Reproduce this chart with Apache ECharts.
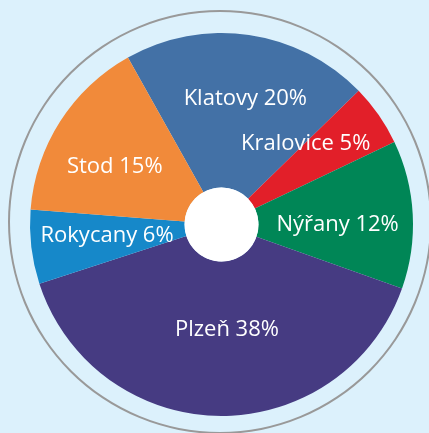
<!DOCTYPE html>
<html>
<head>
<meta charset="utf-8">
<script src="https://cdn.jsdelivr.net/npm/echarts@6/dist/echarts.min.js"></script>
<style>
html,body{margin:0;padding:0;background:#dcf1fc;}
#chart{width:429px;height:433px;}
</style>
</head>
<body>
<div id="chart"></div>
<script>
const categories = ['Klatovy', 'Kralovice', 'Nýřany', 'Plzeň', 'Rokycany', 'Stod'];
const values = [20, 5, 12, 38, 6, 15];
const colors = ['#4371a6', '#e21f29', '#008656', '#463b82', '#1688c9', '#f18a3a'];
const labelNudge = [[7, -10], [-12, -14], [-1, 6], [7, -12], [2, -3], [-8, 5]];

const chart = echarts.init(document.getElementById('chart'), null, {renderer: 'canvas'});
chart.setOption({
  backgroundColor: '#dcf1fc',
  animation: false,
  series: [
    {
      type: 'pie',
      silent: true,
      center: [220, 222],
      radius: [210, 212],
      label: {show: false},
      labelLine: {show: false},
      itemStyle: {color: '#999999'},
      data: [{value: 1, name: 'ring'}]
    },
    {
      type: 'pie',
      silent: true,
      center: [221.5, 224.5],
      radius: [37, 191.5],
      startAngle: 119.25,
      clockwise: true,
      avoidLabelOverlap: false,
      itemStyle: {borderWidth: 0},
      label: {
        show: true,
        position: 'inside',
        formatter: '{b} {c}%',
        color: '#ffffff',
        fontFamily: 'Open Sans',
        fontSize: 22,
        textBorderWidth: 0
      },
      labelLine: {show: false},
      labelLayout: function (p) {
        const n = labelNudge[p.dataIndex];
        return {dx: n[0], dy: n[1]};
      },
      data: categories.map((c, i) => ({name: c, value: values[i], itemStyle: {color: colors[i]}}))
    },
    {
      type: 'pie',
      silent: true,
      center: [221.5, 224.5],
      radius: [0, 37],
      label: {show: false},
      labelLine: {show: false},
      itemStyle: {color: '#ffffff'},
      data: [{value: 1, name: 'hole'}]
    }
  ]
});
</script>
</body>
</html>
